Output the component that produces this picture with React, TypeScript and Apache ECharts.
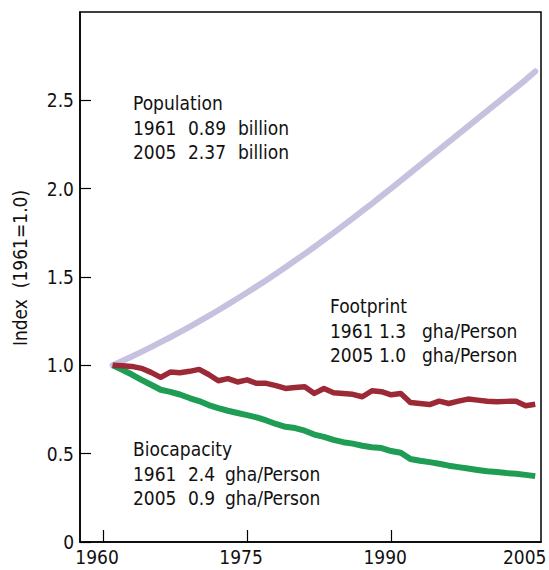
import React, { useEffect, useRef } from "react";
import * as echarts from "echarts";

const years: number[] = [
  1961, 1962, 1963, 1964, 1965, 1966, 1967, 1968, 1969, 1970,
  1971, 1972, 1973, 1974, 1975, 1976, 1977, 1978, 1979, 1980,
  1981, 1982, 1983, 1984, 1985, 1986, 1987, 1988, 1989, 1990,
  1991, 1992, 1993, 1994, 1995, 1996, 1997, 1998, 1999, 2000,
  2001, 2002, 2003, 2004, 2005,
];

const population: number[] = [
  1.0, 1.025, 1.05, 1.076, 1.103, 1.131, 1.159, 1.188, 1.218, 1.249,
  1.28, 1.312, 1.345, 1.378, 1.412, 1.447, 1.482, 1.518, 1.555, 1.593,
  1.631, 1.67, 1.71, 1.75, 1.791, 1.832, 1.874, 1.916, 1.959, 2.002,
  2.045, 2.089, 2.133, 2.177, 2.221, 2.265, 2.309, 2.353, 2.396, 2.44,
  2.484, 2.528, 2.572, 2.616, 2.663,
];

const footprint: number[] = [
  1.0, 0.997, 0.994, 0.983, 0.96, 0.932, 0.962, 0.958, 0.966, 0.977,
  0.948, 0.913, 0.925, 0.906, 0.918, 0.898, 0.898, 0.885, 0.869, 0.874,
  0.879, 0.841, 0.869, 0.845, 0.84, 0.836, 0.822, 0.856, 0.851, 0.833,
  0.841, 0.79, 0.784, 0.778, 0.797, 0.784, 0.797, 0.809, 0.803, 0.797,
  0.794, 0.796, 0.797, 0.771, 0.78,
];

const biocapacity: number[] = [
  1.0, 0.975, 0.948, 0.918, 0.89, 0.862, 0.85, 0.835, 0.815, 0.798,
  0.775, 0.758, 0.743, 0.73, 0.718, 0.705, 0.688, 0.668, 0.652, 0.645,
  0.63, 0.608, 0.595, 0.578, 0.565, 0.557, 0.545, 0.536, 0.532, 0.515,
  0.505, 0.47, 0.46, 0.452, 0.443, 0.432, 0.424, 0.416, 0.408, 0.401,
  0.396, 0.39, 0.386, 0.38, 0.373,
];

const xTicks: number[] = [1960, 1975, 1990];
const xTickLabels: number[] = [1960, 1975, 1990, 2005];
const yTickLabels: number[] = [0, 0.5, 1.0, 1.5, 2.0, 2.5];
const yTitle = "Index  (1961=1.0)";

const popNote: string[][] = [
  ["Population"],
  ["1961", "0.89", "billion"],
  ["2005", "2.37", "billion"],
];
const fpNote: string[][] = [
  ["Footprint"],
  ["1961", "1.3", "gha/Person"],
  ["2005", "1.0", "gha/Person"],
];
const bioNote: string[][] = [
  ["Biocapacity"],
  ["1961", "2.4", "gha/Person"],
  ["2005", "0.9", "gha/Person"],
];

const FONT = "'Liberation Sans Narrow', 'DejaVu Sans Condensed', sans-serif";

function noteTexts(
  rows: string[][],
  x: number,
  y: number,
  colX: number[],
  lineH: number
): any[] {
  const out: any[] = [];
  rows.forEach((row, r) => {
    row.forEach((t, c) => {
      out.push({
        type: "text",
        x: x + colX[c],
        y: y + r * lineH,
        style: {
          text: t,
          font: `19px ${FONT}`,
          fill: "#111",
          verticalAlign: "middle",
          align: "left",
        },
      });
    });
  });
  return out;
}

export default function App() {
  const ref = useRef<HTMLDivElement>(null);
  useEffect(() => {
    if (!ref.current) return;
    const chart = echarts.init(ref.current, null, { renderer: "svg" });
    const pair = (vals: number[]) => years.map((y, i) => [y, vals[i]]);
    chart.setOption({
      animation: false,
      backgroundColor: "#fff",
      grid: {
        left: 80,
        top: 12,
        right: 8,
        bottom: 28,
        show: true,
        borderColor: "#000",
        borderWidth: 1.5,
        containLabel: false,
        outerBoundsMode: "none",
      },
      xAxis: {
        type: "value",
        min: 1957.6,
        max: 2005.6,
        splitLine: { show: false },
        axisLine: { show: true, lineStyle: { color: "#000", width: 1.5 } },
        axisTick: {
          show: true,
          inside: true,
          length: 12,
          customValues: xTicks,
          lineStyle: { color: "#000", width: 1.2 },
        },
        axisLabel: {
          customValues: xTickLabels,
          color: "#111",
          fontFamily: FONT,
          fontSize: 19,
          margin: 5,
          hideOverlap: false,
          formatter: (v: number) =>
            v === 2005 ? `{n|${v}}{s2|}` : `{n|${v}}{s|}`,
          rich: {
            n: { fontFamily: FONT, fontSize: 19, color: "#111" },
            s: { width: 12 },
            s2: { width: 21 },
          },
        },
      },
      yAxis: {
        type: "value",
        min: 0,
        max: 3.0,
        splitLine: { show: false },
        axisLine: { show: true, lineStyle: { color: "#000", width: 1.5 } },
        axisTick: {
          show: true,
          inside: true,
          length: 11,
          customValues: yTickLabels,
          lineStyle: { color: "#000", width: 1.2 },
        },
        axisLabel: {
          customValues: yTickLabels,
          color: "#111",
          fontFamily: FONT,
          fontSize: 19,
          margin: 6,
          formatter: (v: number) => (v === 0 ? "0" : v.toFixed(1)),
        },
      },
      series: [
        {
          type: "line",
          data: pair(population),
          showSymbol: false,
          lineStyle: { color: "#c5c1df", width: 6, cap: "round", join: "round" },
        },
        {
          type: "line",
          data: pair(biocapacity),
          showSymbol: false,
          lineStyle: { color: "#1f9d55", width: 6, join: "round" },
        },
        {
          type: "line",
          data: pair(footprint),
          showSymbol: false,
          lineStyle: { color: "#9c2a36", width: 5.5, join: "round" },
        },
      ],
      graphic: [
        {
          type: "text",
          x: 20,
          y: 268,
          rotation: Math.PI / 2,
          style: {
            text: yTitle,
            font: `19px ${FONT}`,
            fill: "#111",
            align: "center",
            verticalAlign: "middle",
          },
        },
        ...noteTexts(popNote, 133, 103, [0, 55, 105], 24.5),
        ...noteTexts(fpNote, 330, 306, [0, 49, 92], 24.5),
        ...noteTexts(bioNote, 133, 449, [0, 55, 92], 24.5),
      ],
    });
    return () => chart.dispose();
  }, []);
  return (
    <div
      ref={ref}
      style={{ position: "fixed", left: 0, top: 0, width: 549, height: 570 }}
    />
  );
}
